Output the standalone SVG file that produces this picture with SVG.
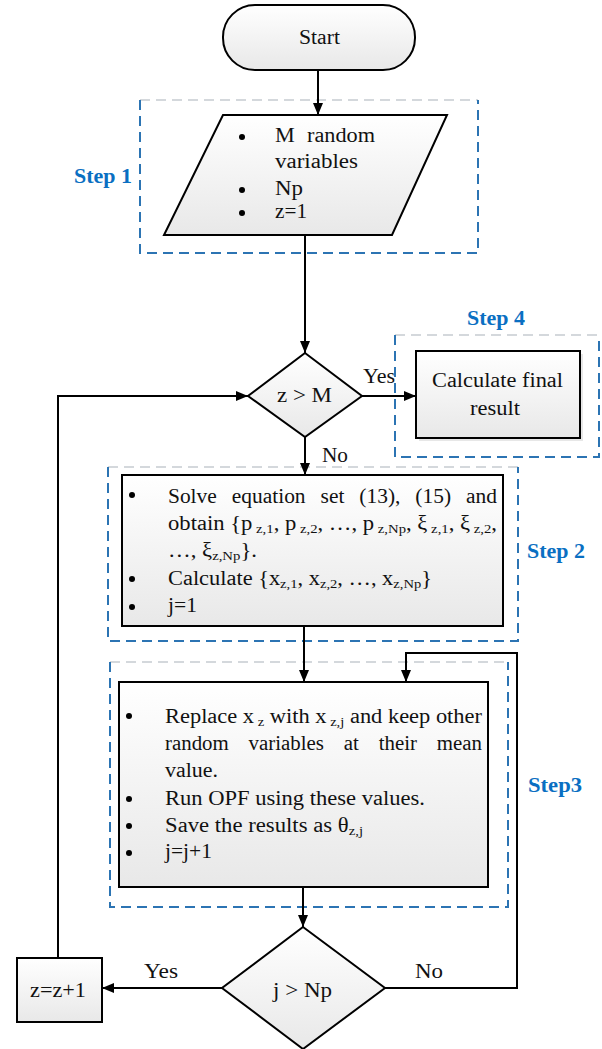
<svg xmlns="http://www.w3.org/2000/svg" width="602" height="1049" viewBox="0 0 602 1049">
<defs>
<linearGradient id="g" x1="0" y1="0" x2="0" y2="1">
<stop offset="0" stop-color="#ffffff"/>
<stop offset="1" stop-color="#e8e8e8"/>
</linearGradient>
<marker id="ah" markerWidth="12" markerHeight="10" refX="12" refY="5" orient="auto" markerUnits="userSpaceOnUse">
<path d="M0,0 L12,5 L0,10 Z" fill="#000"/>
</marker>
</defs>
<style>
.shape{fill:url(#g);stroke:#000;stroke-width:2}
.t{font-family:"Liberation Serif","Times New Roman",serif;font-size:20px;fill:#111}
.s{font-size:13px}
.lab{font-family:"Liberation Serif","Times New Roman",serif;font-size:22px;font-weight:bold;fill:#0a6fc2}
.blue{fill:none;stroke:#2c74b3;stroke-width:2;stroke-dasharray:10 6}
.gray{fill:none;stroke:#d4d8dc;stroke-width:2;stroke-dasharray:10 6}
.c{fill:none;stroke:#000;stroke-width:2}
.b{fill:#000}
</style>
<rect width="602" height="1049" fill="#fff"/>

<g id="step-frames">
<path class="gray" d="M140,100 H478"/>
<path class="blue" d="M140,100 V253 H478 V100"/>
<path class="gray" d="M395,335 H599"/>
<path class="blue" d="M395,335 V457 H599 V335"/>
<path class="gray" d="M108,467 H518"/>
<path class="blue" d="M108,467 V641 H518 V467"/>
<path class="gray" d="M110,662 H508"/>
<path class="blue" d="M110,662 V907 H508 V662"/>
</g>

<g id="connectors">
<path class="c" d="M318,70 V115" marker-end="url(#ah)"/>
<path class="c" d="M305,235 V353" marker-end="url(#ah)"/>
<path class="c" d="M362,396 H416" marker-end="url(#ah)"/>
<path class="c" d="M305,437 V475" marker-end="url(#ah)"/>
<path class="c" d="M304,626 V682" marker-end="url(#ah)"/>
<path class="c" d="M303,887 V927" marker-end="url(#ah)"/>
<path class="c" d="M222,988 H102" marker-end="url(#ah)"/>
<path class="c" d="M385,988 H517 V653 H406 V682" marker-end="url(#ah)"/>
<path class="c" d="M58,958 V396 H248" marker-end="url(#ah)"/>
<text class="t" x="363" y="383" textLength="32" lengthAdjust="spacingAndGlyphs">Yes</text>
<text class="t" x="322" y="462" textLength="26" lengthAdjust="spacingAndGlyphs">No</text>
<text class="t" x="144" y="978" textLength="34" lengthAdjust="spacingAndGlyphs">Yes</text>
<text class="t" x="415" y="978" textLength="28" lengthAdjust="spacingAndGlyphs">No</text>
</g>

<g id="start">
<rect class="shape" x="223" y="5" width="192" height="65" rx="32" ry="32"/>
<text class="t" x="299" y="44" textLength="41" lengthAdjust="spacingAndGlyphs">Start</text>
</g>

<g id="input">
<path class="shape" d="M223,115 H447 L392,235 H164 Z"/>
<circle class="b" cx="242" cy="137" r="3"/>
<circle class="b" cx="242" cy="190" r="3"/>
<circle class="b" cx="242" cy="213" r="3"/>
<text class="t" x="275" y="142" textLength="100" lengthAdjust="spacingAndGlyphs" word-spacing="6">M random</text>
<text class="t" x="275" y="168" textLength="83" lengthAdjust="spacingAndGlyphs">variables</text>
<text class="t" x="275" y="195" textLength="28" lengthAdjust="spacingAndGlyphs">Np</text>
<text class="t" x="275" y="218" textLength="32" lengthAdjust="spacingAndGlyphs">z=1</text>
</g>
<text class="lab" x="74" y="183" textLength="58" lengthAdjust="spacingAndGlyphs">Step 1</text>

<g id="decision-z">
<path class="shape" d="M305,353 L362,396 L305,437 L248,396 Z"/>
<text class="t" x="277" y="402" textLength="55" lengthAdjust="spacingAndGlyphs">z &gt; M</text>
</g>

<g id="final">
<rect x="419" y="354" width="164" height="87" fill="#d0d0d0" opacity="0.5"/>
<rect class="shape" x="416" y="351" width="164" height="87"/>
<text class="t" x="432" y="387" textLength="131" lengthAdjust="spacingAndGlyphs">Calculate final</text>
<text class="t" x="470" y="415" textLength="50" lengthAdjust="spacingAndGlyphs">result</text>
</g>
<text class="lab" x="467" y="325" textLength="58" lengthAdjust="spacingAndGlyphs">Step 4</text>

<g id="solve">
<rect class="shape" x="122" y="475" width="381" height="151"/>
<circle class="b" cx="132" cy="495" r="3"/>
<circle class="b" cx="132" cy="579" r="3"/>
<circle class="b" cx="132" cy="607" r="3"/>
<text class="t" x="168" y="503" textLength="329" lengthAdjust="spacingAndGlyphs" word-spacing="9">Solve equation set (13), (15) and</text>
<text class="t" x="168" y="530" textLength="329" lengthAdjust="spacingAndGlyphs">obtain {p<tspan class="s" dy="3"> z,1</tspan><tspan dy="-3">, p</tspan><tspan class="s" dy="3"> z,2</tspan><tspan dy="-3">, …, p</tspan><tspan class="s" dy="3"> z,Np</tspan><tspan dy="-3">, ξ</tspan><tspan class="s" dy="3"> z,1</tspan><tspan dy="-3">, ξ</tspan><tspan class="s" dy="3"> z,2</tspan><tspan dy="-3">,</tspan></text>
<text class="t" x="168" y="557" textLength="89" lengthAdjust="spacingAndGlyphs">…, ξ<tspan class="s" dy="3">z,Np</tspan><tspan dy="-3">}.</tspan></text>
<text class="t" x="168" y="585" textLength="264" lengthAdjust="spacingAndGlyphs">Calculate {x<tspan class="s" dy="3">z,1</tspan><tspan dy="-3">, x</tspan><tspan class="s" dy="3">z,2</tspan><tspan dy="-3">, …, x</tspan><tspan class="s" dy="3">z,Np</tspan><tspan dy="-3">}</tspan></text>
<text class="t" x="168" y="612" textLength="29" lengthAdjust="spacingAndGlyphs">j=1</text>
</g>
<text class="lab" x="527" y="558" textLength="58" lengthAdjust="spacingAndGlyphs">Step 2</text>

<g id="replace">
<rect class="shape" x="119" y="682" width="369" height="205"/>
<circle class="b" cx="129" cy="716" r="3"/>
<circle class="b" cx="129" cy="799" r="3"/>
<circle class="b" cx="129" cy="826" r="3"/>
<circle class="b" cx="129" cy="853" r="3"/>
<text class="t" x="165" y="723" textLength="317" lengthAdjust="spacingAndGlyphs">Replace x<tspan class="s" dy="3"> z</tspan><tspan dy="-3"> with x</tspan><tspan class="s" dy="3"> z,j</tspan><tspan dy="-3"> and keep other</tspan></text>
<text class="t" x="165" y="750" textLength="317" lengthAdjust="spacingAndGlyphs" word-spacing="14">random variables at their mean</text>
<text class="t" x="165" y="777" textLength="53" lengthAdjust="spacingAndGlyphs">value.</text>
<text class="t" x="165" y="805" textLength="260" lengthAdjust="spacingAndGlyphs">Run OPF using these values.</text>
<text class="t" x="165" y="832" textLength="198" lengthAdjust="spacingAndGlyphs">Save the results as θ<tspan class="s" dy="3">z,j</tspan></text>
<text class="t" x="165" y="858" textLength="47" lengthAdjust="spacingAndGlyphs">j=j+1</text>
</g>
<text class="lab" x="528" y="792" textLength="54" lengthAdjust="spacingAndGlyphs">Step3</text>

<g id="decision-j">
<path class="shape" d="M303,927 L385,988 L303,1049 L222,988 Z"/>
<text class="t" x="273" y="997" textLength="59" lengthAdjust="spacingAndGlyphs">j &gt; Np</text>
</g>

<g id="increment">
<rect class="shape" x="17" y="958" width="85" height="64"/>
<text class="t" x="30" y="997" textLength="56" lengthAdjust="spacingAndGlyphs">z=z+1</text>
</g>
</svg>
